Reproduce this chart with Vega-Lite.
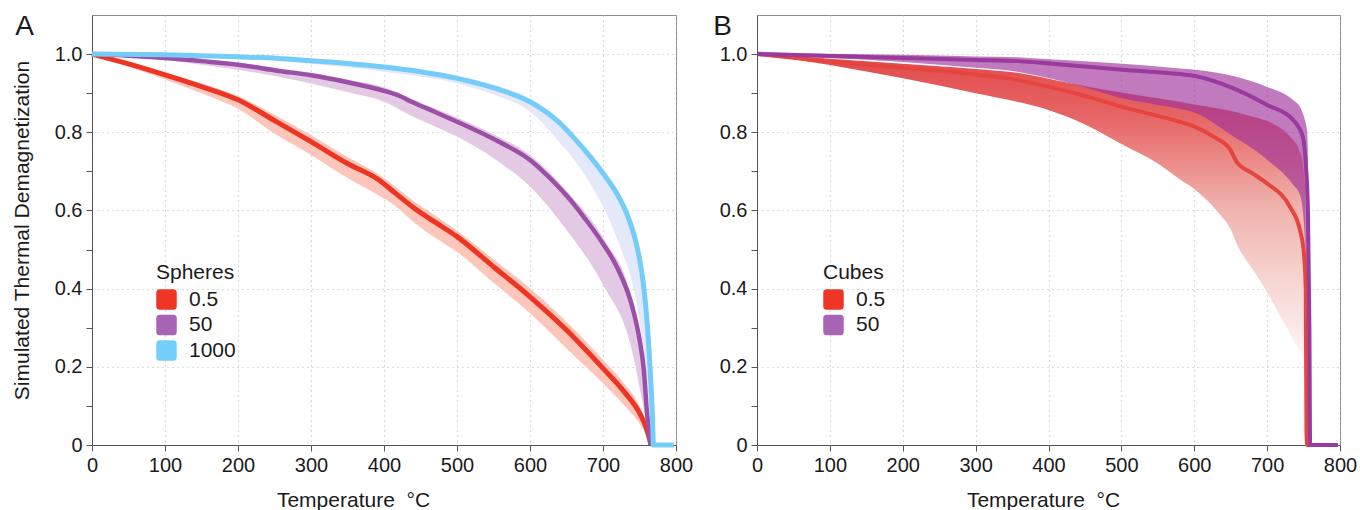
{
  "$schema": "https://vega.github.io/schema/vega-lite/v6.json",
  "padding": {"left": 10, "top": 12, "right": 0, "bottom": 0},
  "spacing": 18,
  "datasets": {
    "aL": [
      {"s":"0.5","T":0,"v":1.0},{"s":"0.5","T":50,"v":0.975},{"s":"0.5","T":100,"v":0.947},{"s":"0.5","T":150,"v":0.917},{"s":"0.5","T":200,"v":0.883},{"s":"0.5","T":250,"v":0.83},{"s":"0.5","T":300,"v":0.776},{"s":"0.5","T":350,"v":0.72},{"s":"0.5","T":393,"v":0.678},{"s":"0.5","T":415,"v":0.645},{"s":"0.5","T":442,"v":0.605},{"s":"0.5","T":470,"v":0.57},{"s":"0.5","T":500,"v":0.533},{"s":"0.5","T":550,"v":0.456},{"s":"0.5","T":600,"v":0.379},{"s":"0.5","T":650,"v":0.294},{"s":"0.5","T":700,"v":0.196},{"s":"0.5","T":730,"v":0.134},{"s":"0.5","T":750,"v":0.082},{"s":"0.5","T":760,"v":0.04},{"s":"0.5","T":766,"v":0},
      {"s":"50","T":0,"v":1.0},{"s":"50","T":50,"v":0.996},{"s":"50","T":100,"v":0.99},{"s":"50","T":150,"v":0.982},{"s":"50","T":200,"v":0.973},{"s":"50","T":256,"v":0.957},{"s":"50","T":300,"v":0.946},{"s":"50","T":350,"v":0.928},{"s":"50","T":400,"v":0.906},{"s":"50","T":420,"v":0.894},{"s":"50","T":440,"v":0.876},{"s":"50","T":470,"v":0.852},{"s":"50","T":500,"v":0.827},{"s":"50","T":553,"v":0.78},{"s":"50","T":600,"v":0.729},{"s":"50","T":625,"v":0.687},{"s":"50","T":650,"v":0.638},{"s":"50","T":675,"v":0.58},{"s":"50","T":700,"v":0.515},{"s":"50","T":720,"v":0.452},{"s":"50","T":740,"v":0.354},{"s":"50","T":750,"v":0.27},{"s":"50","T":756,"v":0.19},{"s":"50","T":760,"v":0.09},{"s":"50","T":765,"v":0},
      {"s":"1000","T":0,"v":1.0},{"s":"1000","T":100,"v":0.998},{"s":"1000","T":200,"v":0.993},{"s":"1000","T":256,"v":0.989},{"s":"1000","T":300,"v":0.983},{"s":"1000","T":350,"v":0.976},{"s":"1000","T":400,"v":0.967},{"s":"1000","T":450,"v":0.955},{"s":"1000","T":500,"v":0.938},{"s":"1000","T":553,"v":0.912},{"s":"1000","T":600,"v":0.878},{"s":"1000","T":640,"v":0.825},{"s":"1000","T":670,"v":0.765},{"s":"1000","T":700,"v":0.695},{"s":"1000","T":720,"v":0.64},{"s":"1000","T":733,"v":0.59},{"s":"1000","T":745,"v":0.52},{"s":"1000","T":752,"v":0.455},{"s":"1000","T":757,"v":0.385},{"s":"1000","T":761,"v":0.3},{"s":"1000","T":765,"v":0.18},{"s":"1000","T":768,"v":0.06},{"s":"1000","T":769,"v":0},{"s":"1000","T":797,"v":0}
    ],
    "aB": [
      {"s":"0.5","T":0,"lo":1.0,"hi":1.0},{"s":"0.5","T":50,"lo":0.968,"hi":0.979},{"s":"0.5","T":100,"lo":0.935,"hi":0.953},{"s":"0.5","T":150,"lo":0.9,"hi":0.925},{"s":"0.5","T":200,"lo":0.86,"hi":0.893},{"s":"0.5","T":250,"lo":0.797,"hi":0.845},{"s":"0.5","T":300,"lo":0.742,"hi":0.793},{"s":"0.5","T":350,"lo":0.683,"hi":0.737},{"s":"0.5","T":393,"lo":0.638,"hi":0.692},{"s":"0.5","T":415,"lo":0.612,"hi":0.662},{"s":"0.5","T":442,"lo":0.568,"hi":0.622},{"s":"0.5","T":470,"lo":0.53,"hi":0.587},{"s":"0.5","T":500,"lo":0.494,"hi":0.548},{"s":"0.5","T":550,"lo":0.415,"hi":0.475},{"s":"0.5","T":600,"lo":0.337,"hi":0.401},{"s":"0.5","T":650,"lo":0.247,"hi":0.315},{"s":"0.5","T":700,"lo":0.158,"hi":0.218},{"s":"0.5","T":730,"lo":0.1,"hi":0.155},{"s":"0.5","T":750,"lo":0.055,"hi":0.1},{"s":"0.5","T":760,"lo":0.022,"hi":0.05},{"s":"0.5","T":766,"lo":0,"hi":0},
      {"s":"50","T":0,"lo":1.0,"hi":1.0},{"s":"50","T":50,"lo":0.993,"hi":0.998},{"s":"50","T":100,"lo":0.985,"hi":0.993},{"s":"50","T":150,"lo":0.973,"hi":0.987},{"s":"50","T":200,"lo":0.96,"hi":0.978},{"s":"50","T":256,"lo":0.942,"hi":0.963},{"s":"50","T":300,"lo":0.925,"hi":0.952},{"s":"50","T":350,"lo":0.903,"hi":0.935},{"s":"50","T":400,"lo":0.878,"hi":0.915},{"s":"50","T":440,"lo":0.84,"hi":0.884},{"s":"50","T":470,"lo":0.815,"hi":0.86},{"s":"50","T":500,"lo":0.789,"hi":0.838},{"s":"50","T":553,"lo":0.73,"hi":0.792},{"s":"50","T":600,"lo":0.661,"hi":0.742},{"s":"50","T":650,"lo":0.55,"hi":0.65},{"s":"50","T":700,"lo":0.41,"hi":0.53},{"s":"50","T":740,"lo":0.24,"hi":0.37},{"s":"50","T":754,"lo":0.11,"hi":0.24},{"s":"50","T":760,"lo":0.05,"hi":0.11},{"s":"50","T":765,"lo":0,"hi":0},
      {"s":"1000","T":0,"lo":1.0,"hi":1.0},{"s":"1000","T":100,"lo":0.997,"hi":1.0},{"s":"1000","T":200,"lo":0.99,"hi":0.997},{"s":"1000","T":300,"lo":0.975,"hi":0.988},{"s":"1000","T":400,"lo":0.955,"hi":0.972},{"s":"1000","T":500,"lo":0.925,"hi":0.944},{"s":"1000","T":553,"lo":0.895,"hi":0.92},{"s":"1000","T":600,"lo":0.853,"hi":0.886},{"s":"1000","T":640,"lo":0.775,"hi":0.833},{"s":"1000","T":670,"lo":0.705,"hi":0.773},{"s":"1000","T":700,"lo":0.61,"hi":0.705},{"s":"1000","T":725,"lo":0.5,"hi":0.625},{"s":"1000","T":742,"lo":0.4,"hi":0.535},{"s":"1000","T":755,"lo":0.25,"hi":0.415},{"s":"1000","T":763,"lo":0.1,"hi":0.24},{"s":"1000","T":768,"lo":0,"hi":0.07},{"s":"1000","T":769,"lo":0,"hi":0}
    ],
    "bL": [
      {"s":"0.5","T":0,"v":1.0},{"s":"0.5","T":100,"v":0.981},{"s":"0.5","T":200,"v":0.965},{"s":"0.5","T":300,"v":0.948},{"s":"0.5","T":357,"v":0.934},{"s":"0.5","T":401,"v":0.916},{"s":"0.5","T":450,"v":0.893},{"s":"0.5","T":501,"v":0.865},{"s":"0.5","T":550,"v":0.842},{"s":"0.5","T":580,"v":0.827},{"s":"0.5","T":601,"v":0.814},{"s":"0.5","T":630,"v":0.785},{"s":"0.5","T":649,"v":0.757},{"s":"0.5","T":658,"v":0.725},{"s":"0.5","T":680,"v":0.695},{"s":"0.5","T":700,"v":0.669},{"s":"0.5","T":731,"v":0.61},{"s":"0.5","T":745,"v":0.55},{"s":"0.5","T":750,"v":0.5},{"s":"0.5","T":753,"v":0.4},{"s":"0.5","T":754,"v":0.03},{"s":"0.5","T":755,"v":0},{"s":"0.5","T":797,"v":0},
      {"s":"50","T":0,"v":1.0},{"s":"50","T":100,"v":0.995},{"s":"50","T":200,"v":0.99},{"s":"50","T":300,"v":0.985},{"s":"50","T":357,"v":0.982},{"s":"50","T":401,"v":0.976},{"s":"50","T":501,"v":0.96},{"s":"50","T":580,"v":0.949},{"s":"50","T":601,"v":0.944},{"s":"50","T":649,"v":0.916},{"s":"50","T":700,"v":0.87},{"s":"50","T":736,"v":0.831},{"s":"50","T":749,"v":0.788},{"s":"50","T":753,"v":0.72},{"s":"50","T":756,"v":0.6},{"s":"50","T":758,"v":0.3},{"s":"50","T":759,"v":0},{"s":"50","T":797,"v":0}
    ],
    "bB": [
      {"s":"0.5","T":0,"lo":1.0,"hi":1.0},{"s":"0.5","T":100,"lo":0.972,"hi":0.988},{"s":"0.5","T":200,"lo":0.938,"hi":0.975},{"s":"0.5","T":300,"lo":0.9,"hi":0.962},{"s":"0.5","T":357,"lo":0.878,"hi":0.952},{"s":"0.5","T":400,"lo":0.857,"hi":0.937},{"s":"0.5","T":450,"lo":0.82,"hi":0.918},{"s":"0.5","T":500,"lo":0.77,"hi":0.902},{"s":"0.5","T":550,"lo":0.72,"hi":0.887},{"s":"0.5","T":580,"lo":0.68,"hi":0.878},{"s":"0.5","T":600,"lo":0.655,"hi":0.871},{"s":"0.5","T":617,"lo":0.627,"hi":0.866},{"s":"0.5","T":635,"lo":0.59,"hi":0.86},{"s":"0.5","T":649,"lo":0.555,"hi":0.855},{"s":"0.5","T":662,"lo":0.5,"hi":0.849},{"s":"0.5","T":680,"lo":0.45,"hi":0.84},{"s":"0.5","T":697,"lo":0.4,"hi":0.831},{"s":"0.5","T":715,"lo":0.34,"hi":0.815},{"s":"0.5","T":731,"lo":0.286,"hi":0.79},{"s":"0.5","T":745,"lo":0.24,"hi":0.75},{"s":"0.5","T":749,"lo":0.226,"hi":0.72},{"s":"0.5","T":752,"lo":0.22,"hi":0.66},
      {"s":"50","T":0,"lo":0.997,"hi":1.006},{"s":"50","T":100,"lo":0.99,"hi":1.001},{"s":"50","T":200,"lo":0.98,"hi":0.998},{"s":"50","T":300,"lo":0.965,"hi":0.994},{"s":"50","T":357,"lo":0.955,"hi":0.992},{"s":"50","T":401,"lo":0.938,"hi":0.987},{"s":"50","T":450,"lo":0.915,"hi":0.982},{"s":"50","T":501,"lo":0.887,"hi":0.975},{"s":"50","T":550,"lo":0.87,"hi":0.968},{"s":"50","T":580,"lo":0.86,"hi":0.963},{"s":"50","T":601,"lo":0.85,"hi":0.96},{"s":"50","T":649,"lo":0.795,"hi":0.946},{"s":"50","T":700,"lo":0.73,"hi":0.916},{"s":"50","T":736,"lo":0.665,"hi":0.882},{"s":"50","T":745,"lo":0.64,"hi":0.865},{"s":"50","T":749,"lo":0.6,"hi":0.848},{"s":"50","T":752,"lo":0.52,"hi":0.83},{"s":"50","T":755,"lo":0.3,"hi":0.8},{"s":"50","T":757,"lo":0,"hi":0.6},{"s":"50","T":759,"lo":0,"hi":0}
    ]
  },
  "hconcat": [
    {
      "width": 584,
      "height": 430,
      "title": {"text": "A", "anchor": "start", "frame": "bounds", "fontSize": 28, "fontWeight": "normal", "color": "#1a1a1a", "offset": -26, "dx": 4},
      "layer": [
        {
          "data": {"name": "aB"},
          "transform": [{"filter": "datum.s == '0.5'"}],
          "mark": {"type": "area", "interpolate": "monotone", "color": "#fdc6bb"},
          "encoding": {
            "x": {"field": "T", "type": "quantitative", "scale": {"domain": [0, 800], "nice": false},
              "axis": {"title": "Temperature\u00a0\u00a0°C", "titleX": 261, "values": [0,50,100,150,200,250,300,350,400,450,500,550,600,650,700,750,800],
                "labelExpr": "datum.value % 100 == 0 ? datum.label : ''",
                "gridOpacity": {"condition": {"test": "datum.value % 100 != 0", "value": 0}, "value": 1}}},
            "y": {"field": "hi", "type": "quantitative", "scale": {"domain": [0, 1.1], "nice": false, "zero": false},
              "axis": {"title": "Simulated Thermal Demagnetization", "titlePadding": 22, "values": [0,0.1,0.2,0.3,0.4,0.5,0.6,0.7,0.8,0.9,1.0],
                "labelExpr": "round(datum.value*10) % 2 == 1 ? '' : (datum.value == 0 ? '0' : format(datum.value, '.1f'))",
                "gridOpacity": {"condition": {"test": "round(datum.value*10) % 2 == 1", "value": 0}, "value": 1}}},
            "y2": {"field": "lo"}
          }
        },
        {
          "data": {"name": "aB"},
          "transform": [{"filter": "datum.s == '50'"}],
          "mark": {"type": "area", "interpolate": "monotone", "color": "#e3c9e4"},
          "encoding": {
            "x": {"field": "T", "type": "quantitative", "title": "Temperature\u00a0\u00a0°C"},
            "y": {"field": "hi", "type": "quantitative", "title": "Simulated Thermal Demagnetization"},
            "y2": {"field": "lo"}
          }
        },
        {
          "data": {"name": "aB"},
          "transform": [{"filter": "datum.s == '1000'"}],
          "mark": {"type": "area", "interpolate": "monotone", "color": "#e4e8f8"},
          "encoding": {
            "x": {"field": "T", "type": "quantitative", "title": "Temperature\u00a0\u00a0°C"},
            "y": {"field": "hi", "type": "quantitative", "title": "Simulated Thermal Demagnetization"},
            "y2": {"field": "lo"}
          }
        },
        {
          "data": {"name": "aL"},
          "transform": [{"filter": "datum.s == '0.5'"}],
          "mark": {"type": "line", "interpolate": "monotone", "strokeWidth": 5, "color": "#ee3524"},
          "encoding": {
            "x": {"field": "T", "type": "quantitative", "title": "Temperature\u00a0\u00a0°C"},
            "y": {"field": "v", "type": "quantitative", "title": "Simulated Thermal Demagnetization"}
          }
        },
        {
          "data": {"name": "aL"},
          "transform": [{"filter": "datum.s == '50'"}],
          "mark": {"type": "line", "interpolate": "monotone", "strokeWidth": 4.5, "color": "#9c4fa7"},
          "encoding": {
            "x": {"field": "T", "type": "quantitative", "title": "Temperature\u00a0\u00a0°C"},
            "y": {"field": "v", "type": "quantitative", "title": "Simulated Thermal Demagnetization"}
          }
        },
        {
          "data": {"name": "aL"},
          "transform": [{"filter": "datum.s == '1000'"}],
          "mark": {"type": "line", "interpolate": "monotone", "strokeWidth": 5, "color": "#74cdf8"},
          "encoding": {
            "x": {"field": "T", "type": "quantitative", "title": "Temperature\u00a0\u00a0°C"},
            "y": {"field": "v", "type": "quantitative", "title": "Simulated Thermal Demagnetization"}
          }
        },
        {
          "data": {"name": "aL"},
          "mark": {"type": "square", "opacity": 0},
          "encoding": {
            "x": {"field": "T", "type": "quantitative", "title": "Temperature\u00a0\u00a0°C"},
            "y": {"field": "v", "type": "quantitative", "title": "Simulated Thermal Demagnetization"},
            "color": {"field": "s", "type": "nominal", "scale": {"domain": ["0.5","50","1000"], "range": ["#ee3526","#a865b5","#73d0fb"]},
              "legend": {"title": "Spheres", "orient": "none", "legendX": 64, "legendY": 247}}
          }
        }
      ]
    },
    {
      "width": 583,
      "height": 430,
      "title": {"text": "B", "anchor": "start", "frame": "bounds", "fontSize": 28, "fontWeight": "normal", "color": "#1a1a1a", "offset": -26, "dx": -6},
      "layer": [
        {
          "data": {"name": "bB"},
          "transform": [{"filter": "datum.s == '0.5'"}],
          "mark": {"type": "area", "interpolate": "monotone",
            "color": {"gradient": "linear", "x1": 0, "y1": 0, "x2": 0, "y2": 1,
              "stops": [{"offset": 0, "color": "#e24a4c"}, {"offset": 0.2, "color": "#e66464"}, {"offset": 0.35, "color": "#eb8b88"}, {"offset": 0.5, "color": "#f0b2ad"}, {"offset": 0.75, "color": "#f6d6d3"}, {"offset": 1, "color": "#fdf6f6"}]}},
          "encoding": {
            "x": {"field": "T", "type": "quantitative", "scale": {"domain": [0, 800], "nice": false},
              "axis": {"title": "Temperature\u00a0\u00a0°C", "titleX": 286, "values": [0,50,100,150,200,250,300,350,400,450,500,550,600,650,700,750,800],
                "labelExpr": "datum.value % 100 == 0 ? datum.label : ''",
                "gridOpacity": {"condition": {"test": "datum.value % 100 != 0", "value": 0}, "value": 1}}},
            "y": {"field": "hi", "type": "quantitative", "scale": {"domain": [0, 1.1], "nice": false, "zero": false},
              "axis": {"title": null, "values": [0,0.1,0.2,0.3,0.4,0.5,0.6,0.7,0.8,0.9,1.0],
                "labelExpr": "round(datum.value*10) % 2 == 1 ? '' : (datum.value == 0 ? '0' : format(datum.value, '.1f'))",
                "gridOpacity": {"condition": {"test": "round(datum.value*10) % 2 == 1", "value": 0}, "value": 1}}},
            "y2": {"field": "lo"}
          }
        },
        {
          "data": {"name": "bB"},
          "transform": [{"filter": "datum.s == '50'"}],
          "mark": {"type": "area", "interpolate": "monotone", "color": "#9e3299", "opacity": 0.65},
          "encoding": {
            "x": {"field": "T", "type": "quantitative", "title": "Temperature\u00a0\u00a0°C"},
            "y": {"field": "hi", "type": "quantitative", "title": null},
            "y2": {"field": "lo"}
          }
        },
        {
          "data": {"name": "bL"},
          "transform": [{"filter": "datum.s == '0.5'"}],
          "mark": {"type": "line", "interpolate": "monotone", "strokeWidth": 4, "color": "#e6453f"},
          "encoding": {
            "x": {"field": "T", "type": "quantitative", "title": "Temperature\u00a0\u00a0°C"},
            "y": {"field": "v", "type": "quantitative", "title": null}
          }
        },
        {
          "data": {"name": "bL"},
          "transform": [{"filter": "datum.s == '50'"}],
          "mark": {"type": "line", "interpolate": "monotone", "strokeWidth": 4, "color": "#983a9e"},
          "encoding": {
            "x": {"field": "T", "type": "quantitative", "title": "Temperature\u00a0\u00a0°C"},
            "y": {"field": "v", "type": "quantitative", "title": null}
          }
        },
        {
          "data": {"name": "bL"},
          "mark": {"type": "square", "opacity": 0},
          "encoding": {
            "x": {"field": "T", "type": "quantitative", "title": "Temperature\u00a0\u00a0°C"},
            "y": {"field": "v", "type": "quantitative", "title": null},
            "color": {"field": "s", "type": "nominal", "scale": {"domain": ["0.5","50"], "range": ["#ee3526","#a865b5"]},
              "legend": {"title": "Cubes", "orient": "none", "legendX": 66, "legendY": 247}}
          }
        }
      ]
    }
  ],
  "resolve": {"scale": {"color": "independent"}, "legend": {"color": "independent"}},
  "config": {
    "font": "Liberation Sans",
    "view": {"stroke": "#8c8c8c"},
    "axis": {"labelFont": "Liberation Sans", "labelFontSize": 20, "labelColor": "#1a1a1a", "titleFont": "Liberation Sans", "titleFontSize": 21, "titleFontWeight": "normal", "titleColor": "#1a1a1a",
      "domainColor": "#555555", "tickColor": "#555555", "tickSize": 6, "gridColor": "#b5b5b5", "gridDash": [1, 4], "gridWidth": 1.2,
      "labelOverlap": false, "labelFlush": false, "labelBound": false, "labelPadding": 4, "titlePadding": 14},
    "legend": {"titleFont": "Liberation Sans", "titleFontSize": 21, "titleFontWeight": "normal", "titleColor": "#1a1a1a", "labelFont": "Liberation Sans", "labelFontSize": 21, "labelColor": "#1a1a1a",
      "symbolType": "M -0.65 -1 L 0.65 -1 Q 1 -1 1 -0.65 L 1 0.65 Q 1 1 0.65 1 L -0.65 1 Q -1 1 -1 0.65 L -1 -0.65 Q -1 -1 -0.65 -1 Z",
      "symbolSize": 420, "symbolStrokeWidth": 0, "symbolOpacity": 1, "rowPadding": 3.5, "labelOffset": 12, "titlePadding": 6, "padding": 0}
  }
}
